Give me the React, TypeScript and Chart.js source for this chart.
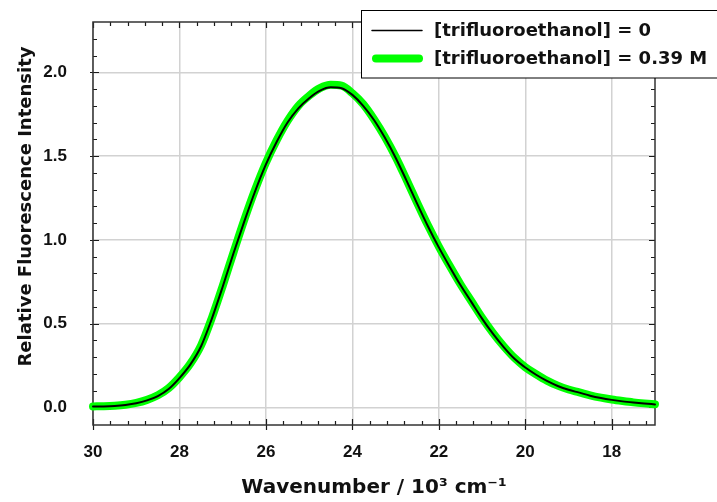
import React, { useEffect, useRef } from "react";
import { Chart, registerables } from "chart.js";

Chart.register(...registerables);

// ---- data ----
const wavenumber = [
  30.0, 29.75, 29.5, 29.25, 29.0, 28.75, 28.5, 28.25, 28.0, 27.75, 27.5, 27.25,
  27.0, 26.75, 26.5, 26.25, 26.0, 25.75, 25.5, 25.25, 25.0, 24.75, 24.5, 24.25,
  24.0, 23.75, 23.5, 23.25, 23.0, 22.75, 22.5, 22.25, 22.0, 21.75, 21.5, 21.25,
  21.0, 20.75, 20.5, 20.25, 20.0, 19.75, 19.5, 19.25, 19.0, 18.75, 18.5, 18.25,
  18.0, 17.75, 17.5, 17.25, 17.0,
];

const intensityTfe0 = [
  0.005, 0.006, 0.009, 0.015, 0.025, 0.042, 0.068, 0.11, 0.175, 0.255, 0.365, 0.53,
  0.72, 0.92, 1.11, 1.29, 1.45, 1.585, 1.7, 1.785, 1.845, 1.89, 1.91, 1.905,
  1.865, 1.8, 1.715, 1.61, 1.49, 1.355, 1.215, 1.08, 0.955, 0.84, 0.73, 0.63,
  0.53, 0.44, 0.36, 0.29, 0.238, 0.195, 0.158, 0.128, 0.105, 0.088, 0.07, 0.056,
  0.045, 0.036, 0.029, 0.023, 0.018,
];

const intensityTfe039 = [
  0.006, 0.007, 0.01, 0.016, 0.027, 0.045, 0.072, 0.115, 0.18, 0.26, 0.37, 0.535,
  0.725, 0.925, 1.12, 1.3, 1.46, 1.595, 1.71, 1.8, 1.86, 1.905, 1.925, 1.92,
  1.875, 1.81, 1.72, 1.615, 1.495, 1.36, 1.22, 1.085, 0.96, 0.845, 0.735, 0.635,
  0.535, 0.445, 0.365, 0.295, 0.24, 0.198, 0.16, 0.13, 0.107, 0.09, 0.072, 0.058,
  0.047, 0.038, 0.03, 0.024, 0.019,
];

const xMajorTicks = [30, 28, 26, 24, 22, 20, 18];
const yMajorTicks = [0, 0.5, 1.0, 1.5, 2.0];
const legendLabels = ["[trifluoroethanol] = 0", "[trifluoroethanol] = 0.39 M"];
const seriesColors = ["#000000", "#00ff00"];
const xTitle = "Wavenumber / 10³ cm⁻¹";
const yTitle = "Relative Fluorescence Intensity";

const TICK_FONT = "'Liberation Sans', Arial, sans-serif";
const TITLE_FONT = "'DejaVu Sans', sans-serif";

const framePlugin = {
  id: "frame",
  beforeDatasetsDraw(chart: any) {
    const { ctx, chartArea, scales } = chart;
    const { left, right, top, bottom } = chartArea;
    const xs = scales.x;
    const ys = scales.y;
    ctx.save();
    ctx.strokeStyle = "#1a1a1a";
    ctx.lineWidth = 1.2;
    ctx.beginPath();
    for (let i = 0; i <= 32; i++) {
      const v = 30 - i * 0.4;
      if (v < 17 - 1e-6) break;
      const px = Math.round(xs.getPixelForValue(v)) + 0.5;
      ctx.moveTo(px, bottom);
      ctx.lineTo(px, bottom - 4);
      ctx.moveTo(px, top);
      ctx.lineTo(px, top + 4);
    }
    for (const v of xMajorTicks) {
      const px = Math.round(xs.getPixelForValue(v)) + 0.5;
      ctx.moveTo(px, bottom + 5);
      ctx.lineTo(px, bottom - 6);
      ctx.moveTo(px, top);
      ctx.lineTo(px, top + 6);
    }
    for (let i = 1; i <= 22; i++) {
      if (i % 5 === 0) continue;
      const py = Math.round(ys.getPixelForValue(i / 10)) + 0.5;
      ctx.moveTo(left, py);
      ctx.lineTo(left + 4, py);
      ctx.moveTo(right, py);
      ctx.lineTo(right - 4, py);
    }
    for (const v of yMajorTicks) {
      const py = Math.round(ys.getPixelForValue(v)) + 0.5;
      ctx.moveTo(left - 3, py);
      ctx.lineTo(left + 6, py);
      ctx.moveTo(right, py);
      ctx.lineTo(right - 6, py);
    }
    ctx.stroke();
    ctx.strokeStyle = "#333333";
    ctx.lineWidth = 1.5;
    ctx.strokeRect(left, top, right - left, bottom - top);
    ctx.restore();
  },
  afterDraw(chart: any) {
    const { ctx } = chart;
    ctx.save();
    ctx.translate(31, 206.5);
    ctx.rotate(-Math.PI / 2);
    ctx.font = `bold 18px ${TITLE_FONT}`;
    ctx.fillStyle = "#111";
    ctx.textAlign = "center";
    ctx.textBaseline = "alphabetic";
    ctx.fillText(yTitle, 0, 0);
    ctx.restore();

    ctx.save();
    ctx.fillStyle = "#ffffff";
    ctx.fillRect(361, 11, 400, 67);
    ctx.strokeStyle = "#000";
    ctx.lineWidth = 1;
    ctx.strokeRect(361.5, 10.5, 400, 67.5);
    const rows = [30.5, 58.5];
    const widths = [1.5, 8];
    rows.forEach((ry, i) => {
      ctx.beginPath();
      ctx.strokeStyle = seriesColors[i];
      ctx.lineWidth = widths[i];
      ctx.lineCap = "round";
      ctx.moveTo(i === 1 ? 376 : 372, ry);
      ctx.lineTo(i === 1 ? 419 : 422, ry);
      ctx.stroke();
      ctx.font = `bold 18px ${TITLE_FONT}`;
      ctx.fillStyle = "#111";
      ctx.textAlign = "left";
      ctx.textBaseline = "middle";
      ctx.fillText(legendLabels[i], 434, ry + 1);
    });
    ctx.restore();
  },
};

export default function App() {
  const canvasRef = useRef<HTMLCanvasElement | null>(null);

  useEffect(() => {
    const canvas = canvasRef.current;
    if (!canvas) return;
    const toPoints = (ys: number[]) => wavenumber.map((x, i) => ({ x, y: ys[i] }));
    const chart = new Chart(canvas, {
      type: "line",
      data: {
        datasets: [
          {
            label: legendLabels[0],
            data: toPoints(intensityTfe0),
            borderColor: seriesColors[0],
            borderWidth: 2,
            pointRadius: 0,
            cubicInterpolationMode: "monotone",
            borderCapStyle: "round",
            borderJoinStyle: "round",
            clip: 8,
          },
          {
            label: legendLabels[1],
            data: toPoints(intensityTfe039),
            borderColor: seriesColors[1],
            borderWidth: 8,
            pointRadius: 0,
            cubicInterpolationMode: "monotone",
            borderCapStyle: "round",
            borderJoinStyle: "round",
            clip: 8,
          },
        ],
      },
      options: {
        responsive: false,
        animation: false,
        layout: { padding: { top: 22, right: 62, left: 0, bottom: 0 } },
        plugins: {
          legend: { display: false },
          tooltip: { enabled: false },
        },
        scales: {
          x: {
            type: "linear",
            reverse: true,
            min: 17,
            max: 30,
            afterBuildTicks: (s: any) => {
              s.ticks = xMajorTicks.map((v) => ({ value: v }));
            },
            afterFit: (s: any) => {
              s.height = 77;
              s.paddingLeft = 0;
              s.paddingRight = 0;
              s.paddingTop = 0;
              s.paddingBottom = 0;
            },
            grid: { color: "#d2d2d2", lineWidth: 1.5, drawTicks: false },
            border: { display: false },
            ticks: {
              padding: 17,
              color: "#111",
              font: { family: TICK_FONT, weight: "bold", size: 17 },
              callback: (v: any) => String(v),
              maxRotation: 0,
            },
            title: {
              display: true,
              text: xTitle,
              color: "#111",
              font: { family: TITLE_FONT, weight: "bold", size: 20 },
              padding: { top: 0, bottom: 2 },
            },
          },
          y: {
            type: "linear",
            min: -0.105,
            max: 2.3,
            afterBuildTicks: (s: any) => {
              s.ticks = yMajorTicks.map((v) => ({ value: v }));
            },
            afterFit: (s: any) => {
              s.width = 93;
              s.paddingLeft = 0;
              s.paddingRight = 0;
              s.paddingTop = 0;
              s.paddingBottom = 0;
            },
            grid: { color: "#d2d2d2", lineWidth: 1.5, drawTicks: false },
            border: { display: false },
            ticks: {
              padding: 26,
              color: "#111",
              font: { family: TICK_FONT, weight: "bold", size: 17 },
              callback: (v: any) => Number(v).toFixed(1),
            },
          },
        },
      },
      plugins: [framePlugin],
    } as any);
    return () => chart.destroy();
  }, []);

  return (
    <div style={{ position: "absolute", left: 0, top: 0, width: 717, height: 502, background: "#fff" }}>
      <canvas ref={canvasRef} width={717} height={502} style={{ display: "block" }} />
    </div>
  );
}
